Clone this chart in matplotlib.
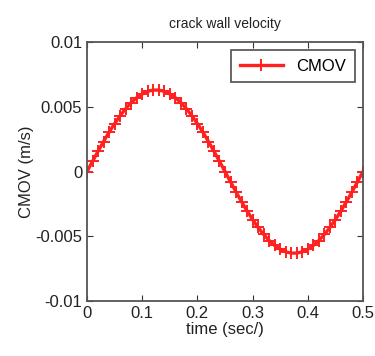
import matplotlib
matplotlib.use("Agg")
import matplotlib.pyplot as plt

# time samples (s) and crack mouth opening velocity (m/s)
time_s = [0.00, 0.01, 0.02, 0.03, 0.04, 0.05, 0.06, 0.07, 0.08, 0.09,
          0.10, 0.11, 0.12, 0.13, 0.14, 0.15, 0.16, 0.17, 0.18, 0.19,
          0.20, 0.21, 0.22, 0.23, 0.24, 0.25, 0.26, 0.27, 0.28, 0.29,
          0.30, 0.31, 0.32, 0.33, 0.34, 0.35, 0.36, 0.37, 0.38, 0.39,
          0.40, 0.41, 0.42, 0.43, 0.44, 0.45, 0.46, 0.47, 0.48, 0.49, 0.50]
cmov = [0.0, 0.00079, 0.00157, 0.00232, 0.00304, 0.00370, 0.00431, 0.00485,
        0.00532, 0.00570, 0.00599, 0.00619, 0.00629, 0.00629, 0.00619,
        0.00599, 0.00570, 0.00532, 0.00485, 0.00431, 0.00370, 0.00304,
        0.00232, 0.00157, 0.00079, 0.0, -0.00079, -0.00157, -0.00232,
        -0.00304, -0.00370, -0.00431, -0.00485, -0.00532, -0.00570,
        -0.00599, -0.00619, -0.00629, -0.00629, -0.00619, -0.00599,
        -0.00570, -0.00532, -0.00485, -0.00431, -0.00370, -0.00304,
        -0.00232, -0.00157, -0.00079, 0.0]

x_ticks = [0, 0.1, 0.2, 0.3, 0.4, 0.5]
x_labels = ["0", "0.1", "0.2", "0.3", "0.4", "0.5"]
y_ticks = [-0.01, -0.005, 0, 0.005, 0.01]
y_labels = ["-0.01", "-0.005", "0", "0.005", "0.01"]

plt.rcParams['font.family'] = ['Liberation Sans', 'DejaVu Sans']

fig = plt.figure(figsize=(3.75, 3.56), dpi=100)
ax = fig.add_axes([0.232, 0.154, 0.736, 0.728])

ax.plot(time_s, cmov, color='#ff2020', linewidth=2.4, marker='+',
        markersize=8, markeredgewidth=1.4, label='CMOV')

ax.set_xlim(0, 0.5)
ax.set_ylim(-0.01, 0.01)
ax.set_xticks(x_ticks)
ax.set_xticklabels(x_labels)
ax.set_yticks(y_ticks)
ax.set_yticklabels(y_labels)
ax.tick_params(direction='in', top=True, right=True, labelsize=12,
               length=4, color='#333333', labelcolor='#222222')
for s in ax.spines.values():
    s.set_color('#555555')
    s.set_linewidth(1.3)

ax.set_title('crack wall velocity', fontsize=10, pad=10, color='#222222')
ax.set_xlabel('time (sec/)', fontsize=12, labelpad=1, color='#222222')
ax.set_ylabel('CMOV (m/s)', fontsize=12, labelpad=1, color='#222222')

leg = ax.legend(loc='upper right', fontsize=12, fancybox=False,
                edgecolor='#333333', handlelength=2.6, borderaxespad=0.5,
                borderpad=0.5)
leg.get_frame().set_linewidth(1.3)

fig.savefig('out.png', dpi=100)
